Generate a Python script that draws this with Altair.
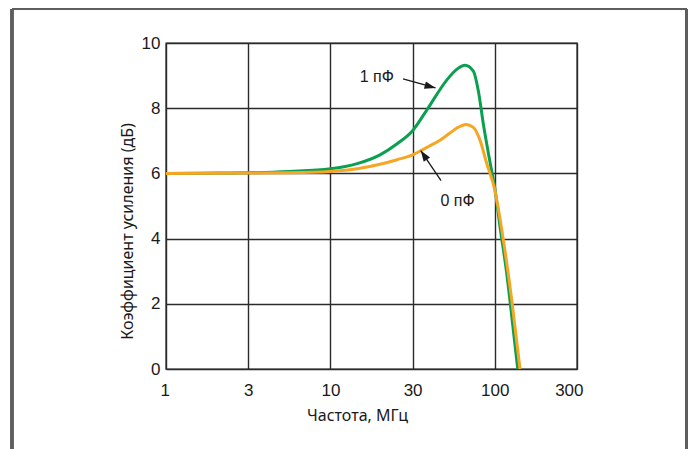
import math
import altair as alt
import pandas as pd

# Axis ticks
freq_ticks = [1, 3, 10, 30, 100, 300]
gain_ticks = [0, 2, 4, 6, 8, 10]

# 1 pF curve (green)
green_freq = [1, 2, 3, 5.5, 10, 14.3, 19.4, 24.4, 30, 37.0, 49.6, 57.5, 64.6, 73.0, 78.6, 84.6, 93.2, 100, 107.3, 117.3, 128.1, 135.9]
green_gain = [6.00, 6.01, 6.02, 6.06, 6.14, 6.30, 6.57, 6.91, 7.31, 7.95, 8.87, 9.20, 9.32, 9.14, 8.53, 7.51, 6.35, 5.55, 4.35, 2.93, 1.19, 0.0]

# 0 pF curve (orange)
orange_freq = [1, 3, 5.5, 10, 14.3, 19.4, 24.4, 30, 37.0, 44.8, 51.9, 58.3, 65.6, 73.0, 80.5, 88.8, 100, 112.1, 125.4, 140.1]
orange_gain = [6.00, 6.01, 6.02, 6.06, 6.14, 6.28, 6.42, 6.57, 6.80, 7.02, 7.24, 7.41, 7.50, 7.41, 7.02, 6.31, 5.49, 3.96, 2.12, 0.0]

# Annotations
label_text = ["1 пФ", "0 пФ"]
label_freq = [18.6, 57.9]
label_gain = [8.96, 5.16]
arrow_start_freq = [26.4, 45.5]
arrow_start_gain = [8.90, 5.78]
arrow_tip_freq = [42.0, 33.8]
arrow_tip_gain = [8.62, 6.70]
arrow_angle = [15, 236]

W, H = 411, 326
PAD_L, PAD_T, PAD_R, PAD_B = 158, 35, 111, 80
TOTAL_W = PAD_L + W + PAD_R  # 680
TOTAL_H = PAD_T + H + PAD_B  # 441

green_df = pd.DataFrame({"f": green_freq, "g": green_gain})
orange_df = pd.DataFrame({"f": orange_freq, "g": orange_gain})
label_df = pd.DataFrame({"f": label_freq, "g": label_gain, "t": label_text})
arrow_df = pd.DataFrame({
    "f": arrow_start_freq, "g": arrow_start_gain,
    "f2": arrow_tip_freq, "g2": arrow_tip_gain, "a": arrow_angle,
})

# equally spaced 1-3-10-30-100-300 grid, log-linear inside each step
log_ticks = [math.log10(t) for t in freq_ticks]
seg = W / 5
xscale = alt.Scale(type="linear", domain=log_ticks, range=[seg * i for i in range(6)], nice=False, zero=False)
yscale = alt.Scale(domain=[0, 10], nice=False)

LOG = "log(datum.f) / LN10"
LOG2 = "log(datum.f2) / LN10"

GRID = "#2b2b2b"
TICK_FONT = "Liberation Sans"
TITLE_FONT = "Noto Sans"

x_axis = alt.Axis(
    values=log_ticks, labelExpr="format(pow(10, datum.value), '.0f')",
    title="Частота, МГц", ticks=False, domain=False,
    labelFlush=True, labelFlushOffset=6,
    grid=True, gridColor=GRID, gridWidth=1.4, gridOpacity=1,
    labelFont=TICK_FONT, labelFontSize=17, labelColor="#1a1a1a", labelPadding=13,
    titleFont=TITLE_FONT, titleFontSize=16, titleFontWeight="normal", titleColor="#1a1a1a",
    titleX=191, titleY=46, titleBaseline="middle", titleAnchor="middle", titleAlign="center",
)
y_axis = alt.Axis(
    values=gain_ticks, title="Коэффициент усиления (дБ)", ticks=False, domain=False,
    labelFlush=False,
    grid=True, gridColor=GRID, gridWidth=1.4, gridOpacity=1,
    labelFont=TICK_FONT, labelFontSize=17, labelColor="#1a1a1a", labelPadding=6,
    titleFont=TITLE_FONT, titleFontSize=16, titleFontWeight="normal", titleColor="#1a1a1a",
    titleX=-39, titleY=188, titleBaseline="middle", titleAngle=-90, titleAlign="center",
)

green = alt.Chart(green_df).transform_calculate(lf=LOG).mark_line(
    color="#0aa04f", strokeWidth=3, interpolate="monotone"
).encode(
    x=alt.X("lf:Q", scale=xscale, axis=x_axis),
    y=alt.Y("g:Q", scale=yscale, axis=y_axis),
)
orange = alt.Chart(orange_df).transform_calculate(lf=LOG).mark_line(
    color="#f6a623", strokeWidth=3, interpolate="monotone"
).encode(
    x=alt.X("lf:Q", scale=xscale),
    y=alt.Y("g:Q", scale=yscale),
)

labels = alt.Chart(label_df).transform_calculate(lf=LOG).mark_text(
    font=TICK_FONT, fontSize=16, color="#1a1a1a"
).encode(
    x=alt.X("lf:Q", scale=xscale), y=alt.Y("g:Q", scale=yscale), text="t:N"
)
arrow_lines = alt.Chart(arrow_df).transform_calculate(lf=LOG, lf2=LOG2).mark_rule(
    color="#1a1a1a", strokeWidth=1.3
).encode(
    x=alt.X("lf:Q", scale=xscale), y=alt.Y("g:Q", scale=yscale), x2="lf2:Q", y2="g2:Q"
)
arrow_heads = alt.Chart(arrow_df).transform_calculate(lf2=LOG2).mark_point(
    shape="M0,0 L-1,-0.35 L-1,0.35 Z", filled=True, color="#1a1a1a", opacity=1, size=484, strokeWidth=0
).encode(
    x=alt.X("lf2:Q", scale=xscale), y=alt.Y("g2:Q", scale=yscale), angle=alt.Angle("a:Q", scale=None)
)

FR = "#5e5e5e"
fx0, fx1, fy0, fy1 = 4 - PAD_L, TOTAL_W - 1.2 - PAD_L, 1 - PAD_T, TOTAL_H - PAD_T
frame_left = alt.Chart(green_df).mark_rule(color=FR, strokeWidth=2.2).encode(
    x=alt.value(fx0), y=alt.value(fy0), y2=alt.value(fy1))
frame_right = alt.Chart(green_df).mark_rule(color=FR, strokeWidth=2.2).encode(
    x=alt.value(fx1), y=alt.value(fy0), y2=alt.value(fy1))
frame_top = alt.Chart(green_df).mark_rule(color=FR, strokeWidth=2.2).encode(
    x=alt.value(fx0), x2=alt.value(fx1), y=alt.value(fy0))

chart = alt.layer(
    green, orange, arrow_lines, arrow_heads, labels, frame_left, frame_right, frame_top
).properties(
    width=W, height=H,
    autosize=alt.AutoSizeParams(type="none"),
    padding={"left": PAD_L, "top": PAD_T, "right": PAD_R, "bottom": PAD_B},
    background="white",
).configure_view(stroke=GRID, strokeWidth=1.4)

chart.save("out.html", embed_options={"renderer": "svg", "actions": False})
